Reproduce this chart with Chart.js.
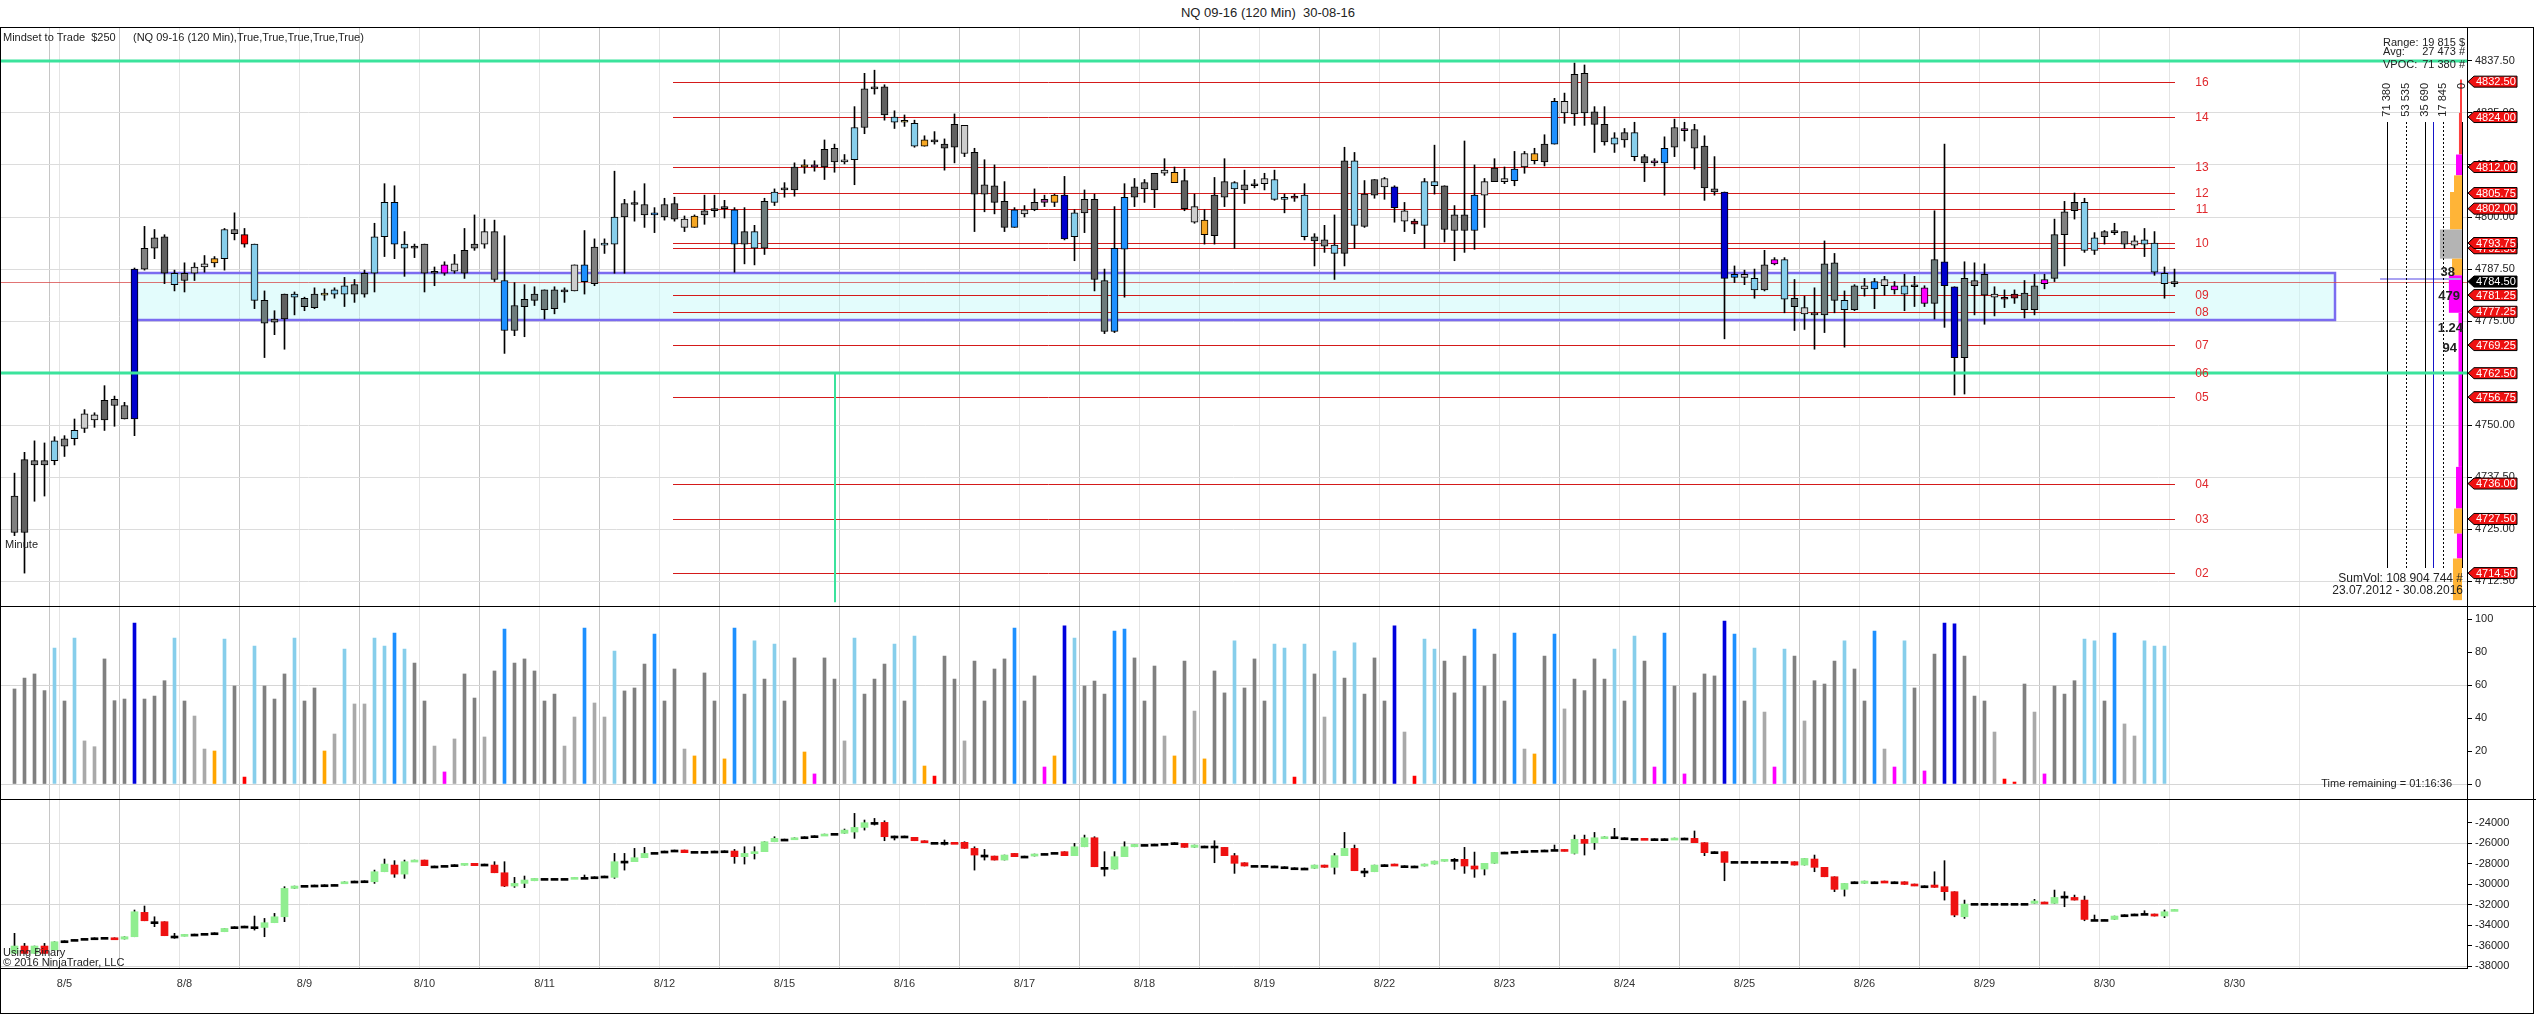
<!DOCTYPE html>
<html>
<head>
<meta charset="utf-8">
<script src="https://cdn.jsdelivr.net/npm/chart.js@4.4.1/dist/chart.umd.min.js"></script>
<style>
  body { margin: 0; background: #fff; width: 2536px; height: 1014px; overflow: hidden; position: relative; font-family: Arial, "Liberation Sans", sans-serif; }
  canvas { position: absolute; left: 0; }
  #title { position: absolute; top: 5px; left: 0; width: 2536px; text-align: center; font-size: 13px; color: #222; }
  .rule { position: absolute; height: 1px; background: #000; }
  #frame { position: absolute; left: 0; top: 27px; width: 2534px; height: 987px; box-sizing: border-box; border: 1px solid #000; pointer-events: none; }
</style>
</head>
<body>
<div id="title">NQ 09-16 (120 Min)&nbsp; 30-08-16</div>
<canvas id="priceChart" width="2536" height="579" style="top:27px"></canvas>
<canvas id="volChart" width="2536" height="193" style="top:606px"></canvas>
<canvas id="deltaChart" width="2536" height="215" style="top:799px"></canvas>
<div id="frame"></div>
<div class="rule" style="top:606px;left:0;width:2536px"></div>
<div class="rule" style="top:799px;left:0;width:2536px"></div>
<div class="rule" style="top:968px;left:0;width:2468px"></div>
<script>
// --- price bars (120 min NQ 09-16) ---
const open = [
  4733, 4724.25, 4741.5, 4740.5, 4741.5, 4746.75, 4746.75, 4749.25, 4752.5, 4751.25, 4756.25, 4754.75,
  4751.5, 4787.5, 4792.5, 4795.25, 4786.5, 4784.75, 4786.5, 4788, 4789, 4790, 4797, 4795.75,
  4793.5, 4780, 4775.5, 4775.5, 4781.5, 4780.5, 4778.25, 4781.5, 4781.5, 4781.5, 4783.75, 4781.5,
  4786.5, 4795.25, 4803.5, 4793.5, 4792.5, 4793.5, 4786.5, 4786.5, 4788.75, 4786.5, 4792.5, 4793.5,
  4796.5, 4784.75, 4772.75, 4778.5, 4780, 4782.5, 4778, 4782.5, 4782.25, 4788.5, 4784, 4793.25,
  4793.5, 4800, 4803.25, 4803, 4800.5, 4800, 4803.25, 4799.5, 4797.5, 4800.5, 4801.5, 4802,
  4801.75, 4793.5, 4796.5, 4792.5, 4803.5, 4806.5, 4806.5, 4812, 4812.5, 4812, 4816.5, 4813.25,
  4813.75, 4821.5, 4830.75, 4831.25, 4824, 4822.75, 4822.5, 4817, 4818.5, 4817.5, 4816.75, 4822,
  4815.5, 4805.5, 4807.5, 4803.75, 4797.5, 4801.75, 4801.75, 4803.5, 4803.5, 4805.25, 4795.25, 4801,
  4804.25, 4784.75, 4772.5, 4792.25, 4804.75, 4806.75, 4806.5, 4810.5, 4810.75, 4808.75, 4802.5, 4799.25,
  4795.5, 4804.75, 4808.25, 4806.5, 4807.75, 4808, 4809, 4804.25, 4804.5, 4805.25, 4795.25, 4794.5,
  4793.25, 4791.25, 4813.5, 4797.75, 4805.25, 4809.25, 4807.25, 4801.5, 4799, 4798, 4808.5, 4807.5,
  4796.75, 4800.5, 4796.75, 4805.25, 4808.5, 4809.25, 4808.75, 4812, 4815.25, 4813.25, 4817.5, 4827.75,
  4824.75, 4834.5, 4825.25, 4822.25, 4817.5, 4818.5, 4820.25, 4814.5, 4813, 4813, 4816.75, 4821.25,
  4821, 4817, 4806.75, 4806, 4785.5, 4786.25, 4785.25, 4782.5, 4788.75, 4789.75, 4780.5, 4778.25,
  4776.75, 4776.5, 4789, 4780, 4777.75, 4783.5, 4782.75, 4785, 4783.5, 4781.5, 4783.5, 4783,
  4779.25, 4789.25, 4783.25, 4766.25, 4784.75, 4786.25, 4781.5, 4780.5, 4780.5, 4781.75, 4777.75, 4784,
  4785.25, 4795.75, 4801.5, 4803.5, 4792, 4795.25, 4796.75, 4796.5, 4793.25, 4794.5, 4793.75, 4786.5,
  4784
];
const high = [
  4738.5, 4743.5, 4746.25, 4745.75, 4747.25, 4747.5, 4751.5, 4753.75, 4753, 4759.5, 4757, 4755.5,
  4787.75, 4797.75, 4797, 4795.75, 4787.25, 4789, 4789, 4790.75, 4790.5, 4797.25, 4801, 4797.25,
  4793.5, 4782.25, 4777.5, 4781.5, 4782, 4780.75, 4783, 4782.75, 4783, 4785.5, 4785, 4787.25,
  4798.5, 4808, 4807.5, 4796.5, 4793.5, 4793.5, 4788, 4789.25, 4791, 4797.25, 4800.5, 4799.5,
  4799.25, 4795.5, 4784.25, 4783.75, 4783.25, 4782.5, 4783.25, 4783, 4788.5, 4796.75, 4794.75, 4794.75,
  4811, 4804.25, 4806.25, 4808, 4802.25, 4804.5, 4804.75, 4800.25, 4800.5, 4805.25, 4805.25, 4804,
  4802.25, 4802.25, 4798, 4804.5, 4806.75, 4808.25, 4813, 4813.75, 4813.5, 4818.5, 4817.5, 4815,
  4826.5, 4834.5, 4835.25, 4831.75, 4825.5, 4824.5, 4823.25, 4819.5, 4820.5, 4818.75, 4824.75, 4822,
  4816.5, 4813.75, 4812.5, 4808.5, 4802.25, 4802.75, 4806.75, 4805.25, 4805.5, 4809.75, 4801.75, 4806.5,
  4805.5, 4787.5, 4802.5, 4808, 4809.25, 4809, 4810.5, 4814, 4812, 4811.5, 4805.5, 4801.75,
  4809.5, 4814, 4808.5, 4811.25, 4809, 4810.5, 4811.25, 4805.5, 4805.5, 4808, 4796, 4798,
  4800.5, 4816.75, 4815.5, 4808.75, 4809, 4809.5, 4807.5, 4803.5, 4799.5, 4809.25, 4817.25, 4807.5,
  4802.75, 4818.25, 4812.5, 4809.25, 4814, 4812, 4815.75, 4815.75, 4816.5, 4819.75, 4828.5, 4829.75,
  4837, 4836.5, 4826.5, 4826.5, 4820.25, 4821.25, 4822.75, 4815, 4814, 4819.25, 4823.5, 4822.75,
  4822.25, 4819.5, 4814.5, 4806, 4788.25, 4787.25, 4787.5, 4792, 4790.25, 4790.25, 4785, 4781,
  4783, 4794.25, 4791.25, 4782.25, 4783.75, 4785.25, 4785.25, 4785.75, 4784.5, 4786.25, 4785.75, 4783.5,
  4801.5, 4817.5, 4783.25, 4789.25, 4789, 4788.75, 4783.25, 4782.5, 4782.5, 4784.75, 4786.25, 4786.25,
  4799.5, 4803.75, 4805.75, 4804.5, 4796.25, 4796.75, 4798.5, 4796.5, 4795.5, 4797.25, 4796.5, 4788,
  4787.5
];
const low = [
  4723.5, 4714.5, 4731.75, 4733, 4740.5, 4742.5, 4745.25, 4748.25, 4749.5, 4748.75, 4749.75, 4751.5,
  4747.5, 4787.25, 4790, 4784, 4782.25, 4782, 4784.75, 4786.75, 4788, 4787.25, 4794.5, 4792.75,
  4778, 4766.25, 4771.75, 4768.25, 4776.5, 4777.5, 4778, 4780, 4780.5, 4778.5, 4779.5, 4780.75,
  4782, 4790.5, 4790, 4785.75, 4790.25, 4782, 4783.5, 4786, 4786.5, 4785.25, 4792, 4792.5,
  4784.5, 4767.25, 4771.5, 4771.25, 4778.75, 4775.5, 4776.75, 4779.5, 4782.25, 4781.5, 4783.5, 4791.25,
  4786.5, 4786.5, 4799, 4797.5, 4796.25, 4799.25, 4799, 4796.5, 4797.5, 4798.25, 4800, 4799.75,
  4786.75, 4788.75, 4788.5, 4791, 4802.75, 4804.75, 4805, 4810.5, 4811, 4809, 4810.75, 4812.75,
  4807.75, 4820, 4829.5, 4823.25, 4821.25, 4821.75, 4816.75, 4817, 4817.5, 4811.25, 4813, 4814.5,
  4796.5, 4801.25, 4800.75, 4796.5, 4797.5, 4800, 4801.5, 4802.5, 4802.5, 4794.5, 4789.5, 4796.25,
  4782.25, 4772, 4772.25, 4780.75, 4802.5, 4803.5, 4802.25, 4810, 4808.25, 4801.5, 4798.5, 4793.5,
  4793.5, 4802.5, 4792.5, 4803.25, 4807, 4806.5, 4804, 4801, 4803.75, 4794.5, 4788.25, 4791.5,
  4785, 4788.25, 4792.5, 4797.5, 4804.5, 4804.25, 4798.75, 4796.5, 4796, 4792.5, 4805.5, 4794,
  4789.5, 4791.5, 4792.25, 4797.5, 4808.5, 4808, 4807.5, 4810.5, 4812.75, 4812.25, 4817.5, 4822.5,
  4822, 4822, 4815.5, 4817.25, 4815.5, 4816.75, 4813.5, 4808.5, 4812.25, 4805.25, 4814.5, 4818.25,
  4811.5, 4804, 4805.25, 4770.75, 4784.25, 4783.75, 4780.5, 4782.25, 4788.5, 4777, 4772.75, 4773,
  4768.25, 4772.25, 4777, 4768.75, 4777.5, 4781, 4778, 4781.25, 4781.5, 4777.5, 4778.5, 4778.5,
  4775.5, 4773.5, 4757.25, 4757.5, 4776.5, 4774.25, 4776.25, 4778.25, 4779.25, 4775.75, 4776.5, 4782.75,
  4784.5, 4788.25, 4799.5, 4791.5, 4791, 4793.5, 4795.75, 4792.5, 4792.5, 4790.5, 4786, 4780.5,
  4783.25
];
const close = [
  4724.25, 4741.75, 4740.5, 4741.5, 4746.25, 4745, 4748.75, 4752.75, 4751.25, 4756, 4754.75, 4751.5,
  4787.5, 4792.5, 4795, 4786.5, 4783.75, 4786.5, 4788, 4788.75, 4790, 4797, 4796, 4793.5,
  4780, 4774.5, 4774.75, 4781.5, 4780.75, 4778.5, 4781.5, 4781.25, 4782.5, 4783.5, 4781.5, 4786.5,
  4795.25, 4803.5, 4793.5, 4792.5, 4793, 4786.5, 4786.75, 4788.5, 4787, 4792, 4793.5, 4796.5,
  4785, 4772.75, 4778.75, 4780.25, 4781.5, 4777.75, 4782.5, 4782, 4788.5, 4784.5, 4792.75, 4793.5,
  4800, 4803.25, 4803, 4800.5, 4800.75, 4803, 4799.5, 4797.5, 4800.25, 4801.5, 4802, 4802.5,
  4793.5, 4796.5, 4792.5, 4803.75, 4806, 4807, 4812, 4812.5, 4812, 4816.25, 4813.25, 4813.75,
  4821.5, 4830.75, 4831, 4824.5, 4822.75, 4822.75, 4817, 4818.5, 4818, 4816.5, 4822.25, 4815.25,
  4805.5, 4807.75, 4803.5, 4797.5, 4801.75, 4800.75, 4803.5, 4804.25, 4805.25, 4794.75, 4801, 4804.25,
  4785, 4772.5, 4792.5, 4804.75, 4807.25, 4808.25, 4810.5, 4811.25, 4808.25, 4802, 4798.75, 4795.75,
  4805.25, 4808.5, 4806.75, 4807.75, 4807.5, 4809.25, 4804.25, 4804.25, 4805, 4795.25, 4794.25, 4793,
  4791.25, 4813.5, 4798, 4805.5, 4809, 4807.25, 4802.25, 4799, 4798.25, 4808.5, 4807.5, 4797,
  4800.5, 4796.75, 4805.25, 4808.5, 4811.75, 4808.5, 4811.5, 4815.25, 4813.5, 4817.5, 4827.75, 4825,
  4834.25, 4825, 4822.25, 4818, 4819, 4820.25, 4814.5, 4813, 4813.5, 4816.5, 4821.5, 4820.75,
  4816.5, 4807, 4806, 4785.25, 4786.25, 4785.5, 4782.5, 4788.5, 4789.75, 4780.25, 4778.5, 4776.75,
  4776.5, 4788.75, 4780, 4777.75, 4783.5, 4782.75, 4784.5, 4783.5, 4782.5, 4783.5, 4783.25, 4779.25,
  4789.75, 4783.5, 4766.25, 4785.25, 4783.5, 4781.25, 4780.75, 4780.25, 4781.5, 4777.75, 4783.5, 4785,
  4795.75, 4801.25, 4803.5, 4792, 4795, 4796.5, 4796.25, 4793.5, 4794.25, 4793.5, 4786.75, 4784,
  4784.5
];
// candle body tone per bar (g gray, d dark, s slate, l light, b sky, D dodger, B blue, o orange, r red, m magenta, p purple, R dark red, k khaki)
const candleTone = (
  'g d g g b g b l l d g g ' + 'B g g d b g l l o b g r ' + 'b s g d b s s k b b s s ' +
  'b b D b d g d m l d g l ' + 'g D s s s s s d l D g b ' + 'b g d g D g d l o g d d ' +
  'D s b s b d d o p d g l ' + 'b g d d b k b o d d d l ' + 'd g d d D l g p o B b g ' +
  'd s D D d g d l o d l o ' + 'd g b g d l b b R b s g ' + 'b d b g d l B l R b b d ' +
  'g d D l d l D l o d D l ' + 'g g d d b g b d p D g p ' + 'g d g B D l b g m b s l ' +
  'g s s b s l D l m b d m ' + 's B B s g s l R R s s m ' + 's g d b b g d g l b b b ' + 's'
).trim().split(' ');

// --- volume panel ---
const volume = [
  57.6, 64.2, 66.7, 56.6, 82.4, 50.3, 88.5, 26.1, 22.6, 75.8, 50.5, 51.5,
  97.6, 51.5, 53.3, 62.6, 88.5, 50.3, 41.2, 21.2, 20, 87.9, 59.4, 4.2,
  83.6, 59.4, 51.5, 66.7, 88.5, 50.3, 58.2, 20, 30.3, 81.8, 48.5, 48.5,
  88.5, 83.6, 91.5, 81.8, 73.3, 50.3, 23, 7.3, 27.3, 66.7, 52.1, 28.5,
  68.5, 93.9, 73.3, 75.8, 68.5, 50.3, 54.5, 23, 40.6, 94.5, 49.1, 40.6,
  80.6, 56.4, 58.2, 72.7, 90.9, 50.3, 69.7, 21.2, 17, 67.3, 50.3, 15.2,
  94.5, 54.5, 86.7, 63.6, 84.8, 50.3, 76.4, 19.4, 6.1, 76.4, 63.6, 26.1,
  88.5, 54.5, 63.6, 72.7, 84.8, 50.3, 89.7, 10.9, 4.8, 77.6, 63.6, 26.1,
  74.5, 50.3, 69.7, 75.8, 94.5, 50.3, 65.5, 10.3, 17, 95.8, 88.5, 59.4,
  62.4, 54.5, 92.7, 93.9, 76.4, 50.3, 71.5, 29.1, 17, 74.5, 44.2, 15.2,
  68.5, 55.2, 86.7, 58.2, 75.8, 50.3, 84.8, 82.4, 4.2, 84.8, 66.7, 40.6,
  80.6, 64.2, 85.5, 54.5, 76.4, 50.3, 95.8, 31.5, 4.8, 87.9, 81.8, 74.5,
  55.2, 77.6, 93.9, 59.4, 78.8, 50.3, 91.5, 21.2, 18.2, 77.6, 90.9, 45.5,
  63.6, 56.6, 75.8, 63.6, 81.8, 50.3, 89.7, 74.5, 10.3, 91.5, 59.4, 6.1,
  55.2, 66.7, 65.5, 98.8, 90.9, 50.3, 82.4, 43.6, 10.3, 81.8, 77.6, 38.2,
  62.6, 60.6, 74.5, 86.7, 69.7, 50.3, 92.7, 21.2, 10.3, 86.7, 58.2, 7.9,
  78.8, 97.6, 97, 77.6, 53.3, 50.3, 31.5, 3, 1.2, 60.6, 43.6, 6.1,
  59.4, 54.5, 62.6, 87.9, 86.7, 50.3, 91.5, 36.4, 29.1, 86.7, 83.6, 83.6,
  null
];
const volClass = (
  'g g g g b g b l l g g g ' + 'B g g g b g l l o b g r ' + 'b g g g b g g o l b l l ' +
  'b b D b g g l m l g g l ' + 'g D g g g g g l l D l l ' + 'b g g g D g g l o g g o ' +
  'D g b g b g g o m g g l ' + 'b g g g b g b o r g g l ' + 'g g g g D g g m o B b g ' +
  'g g D D g g g l o g l o ' + 'g g b g g g b b r b g l ' + 'b g b g g g B l r b b g ' +
  'g g D g g g D l o g D l ' + 'g g g g b g b g m D g m ' + 'g g g B D g b l m b g l ' +
  'g g g b g g D l m b g m ' + 'g B B g g g l r r g l m ' + 'g g g b b g D l l b b b ' + 'g'
).trim().split(' ');

// --- lower panel (binary delta) ---
const dOpen = [
  -36770, -36050, -36770, -36050, -36440, -35530, -35400, -35300, -35240, -35200, -35240, -35370,
  -35140, -32760, -33670, -33670, -35070, -35070, -34880, -34810, -34750, -34650, -34160, -34100,
  -34160, -34230, -33770, -33190, -30420, -30120, -30090, -30060, -30030, -29930, -29700, -29670,
  -29770, -28790, -28140, -29020, -27810, -27650, -28230, -28170, -28100, -28140, -27970, -28040,
  -28140, -28890, -30190, -29930, -29670, -29440, -29440, -29440, -29440, -29340, -29280, -29210,
  -29340, -27750, -27810, -27420, -26900, -26770, -26670, -26670, -26800, -26800, -26770, -26740,
  -26770, -27320, -27000, -26830, -25860, -25600, -25600, -25370, -25270, -25270, -25040, -25040,
  -24910, -24460, -23970, -23970, -25300, -25300, -25430, -25760, -25920, -25920, -25920, -25920,
  -26510, -27160, -27260, -27650, -27000, -27260, -27260, -27000, -26900, -26830, -27220, -26350,
  -25470, -28360, -28530, -27320, -26350, -26120, -26090, -26020, -25950, -26020, -26410, -26280,
  -26280, -26410, -27220, -27910, -28170, -28170, -28230, -28300, -28400, -28430, -28460, -28140,
  -28360, -27220, -26510, -28720, -28790, -28100, -28040, -28200, -28230, -28230, -28040, -27750,
  -27580, -27580, -28230, -28530, -27970, -26870, -26800, -26740, -26700, -26670, -26610, -26610,
  -27000, -25630, -25950, -25530, -25370, -25470, -25530, -25530, -25560, -25560, -25630, -25500,
  -25530, -25950, -26830, -26830, -27780, -27780, -27780, -27780, -27780, -27780, -27810, -28140,
  -27550, -28360, -29280, -30510, -29770, -29930, -29770, -29700, -29770, -29770, -29990, -30160,
  -30090, -30250, -30740, -33190, -31880, -31880, -31880, -31880, -31880, -31880, -31880, -31750,
  -31880, -31170, -31300, -31560, -33450, -33450, -33450, -32990, -32920, -32860, -32920, -33120,
  -32600
];
const dHigh = [
  -34810, -35790, -36050, -35790, -35630, -35530, -35400, -35300, -35240, -35200, -35240, -35140,
  -32530, -32140, -33190, -33670, -34810, -34910, -34880, -34810, -34750, -34330, -34160, -34100,
  -33120, -33350, -32860, -30250, -30190, -30120, -30090, -30060, -30030, -29770, -29700, -29670,
  -28630, -27550, -27710, -27650, -27650, -27650, -28230, -28170, -28100, -27970, -27970, -28040,
  -27810, -27810, -29340, -29210, -29440, -29440, -29440, -29440, -29340, -29110, -29280, -29210,
  -27000, -27000, -26510, -26410, -26900, -26770, -26670, -26670, -26800, -26800, -26770, -26740,
  -26610, -26350, -26350, -25860, -25370, -25600, -25470, -25370, -25270, -25110, -25040, -24620,
  -23090, -23740, -23580, -23810, -25300, -25300, -25430, -25760, -25920, -25690, -25920, -25860,
  -26350, -26610, -27260, -27160, -27000, -27260, -27060, -27000, -26900, -26830, -26020, -25210,
  -25370, -26830, -26830, -25860, -26120, -26120, -26090, -26020, -25950, -26020, -26180, -26280,
  -25760, -26410, -27000, -27910, -28170, -28170, -28230, -28300, -28400, -28430, -28140, -28140,
  -27000, -24950, -26180, -28460, -28140, -28100, -28040, -28200, -28230, -28040, -27750, -27580,
  -27490, -26410, -26870, -27970, -26900, -26870, -26800, -26740, -26700, -26670, -26180, -26610,
  -25210, -25210, -24950, -25370, -24550, -25470, -25530, -25530, -25560, -25560, -25500, -25500,
  -24810, -25950, -26830, -26830, -27780, -27780, -27780, -27780, -27780, -27780, -27810, -27490,
  -27160, -28360, -29280, -29930, -29770, -29700, -29770, -29700, -29770, -29770, -29990, -30160,
  -28790, -27710, -30740, -31560, -31880, -31880, -31880, -31880, -31880, -31880, -31490, -31750,
  -30580, -30740, -31070, -31170, -33020, -33450, -33120, -32990, -32920, -32600, -32920, -32530,
  -32470
];
const dLow = [
  -36770, -36770, -36770, -36770, -36440, -35530, -35400, -35300, -35240, -35200, -35370, -35370,
  -35140, -33580, -34160, -35040, -35300, -35070, -34880, -34810, -34750, -34650, -34160, -34100,
  -34490, -35140, -33770, -33670, -30420, -30120, -30090, -30060, -30030, -29930, -29700, -29670,
  -29930, -28790, -29340, -29440, -27810, -28200, -28230, -28170, -28100, -28140, -28200, -28040,
  -28890, -30250, -30320, -30350, -29670, -29440, -29440, -29440, -29440, -29440, -29280, -29210,
  -29440, -28630, -27810, -27420, -26900, -26770, -26670, -26930, -26800, -26800, -26770, -26740,
  -27970, -28040, -27550, -26830, -25860, -25600, -25600, -25370, -25270, -25270, -25040, -25040,
  -25530, -24720, -24230, -25760, -25690, -25300, -25760, -25950, -25920, -26180, -26020, -26510,
  -28630, -27650, -27650, -27650, -27320, -27260, -27260, -27000, -26900, -27220, -27220, -26350,
  -28300, -29210, -28530, -27320, -26350, -26120, -26090, -26020, -25950, -26410, -26410, -26280,
  -27910, -27220, -28950, -28230, -28170, -28170, -28230, -28300, -28400, -28430, -28460, -28360,
  -29020, -27220, -28690, -29280, -28790, -28100, -28170, -28200, -28230, -28230, -28040, -27750,
  -28560, -28950, -29340, -29110, -27970, -26870, -26800, -26740, -26700, -26670, -26610, -26770,
  -27060, -27160, -26610, -25530, -25530, -25470, -25530, -25630, -25560, -25560, -25630, -25500,
  -25950, -27220, -26830, -29670, -27780, -27780, -27780, -27780, -27780, -27780, -28140, -28140,
  -28790, -29280, -30740, -31170, -29770, -29930, -29770, -29860, -29770, -30030, -30160, -30160,
  -30320, -31560, -33190, -33350, -31880, -31880, -31880, -31880, -31880, -31880, -31880, -31880,
  -31880, -32210, -31560, -33580, -33450, -33450, -33450, -32990, -32920, -32860, -33120, -33280,
  -32600
];
const dClose = [
  -36050, -36770, -36050, -36770, -35630, -35530, -35400, -35300, -35240, -35200, -35370, -35140,
  -32700, -33580, -33670, -35040, -35070, -34910, -34880, -34810, -34750, -34330, -34160, -34100,
  -34160, -33770, -33190, -30420, -30190, -30120, -30090, -30060, -30030, -29770, -29700, -29670,
  -28790, -28040, -29020, -27810, -27650, -28200, -28230, -28170, -28100, -27970, -28200, -28040,
  -28890, -30190, -29930, -29600, -29440, -29440, -29440, -29440, -29340, -29370, -29280, -29210,
  -27810, -27750, -27420, -27000, -26900, -26770, -26670, -26930, -26800, -26800, -26770, -26740,
  -27320, -27000, -26830, -25860, -25530, -25600, -25470, -25370, -25270, -25110, -25040, -24720,
  -24460, -24000, -23970, -25370, -25300, -25300, -25760, -25950, -25920, -25920, -26020, -26510,
  -27160, -27190, -27650, -27160, -27320, -27260, -27060, -27000, -26900, -27220, -26350, -25470,
  -28300, -28360, -27320, -26350, -26120, -26120, -26090, -26020, -25950, -26410, -26180, -26280,
  -26280, -27220, -27970, -28230, -28170, -28170, -28230, -28300, -28400, -28430, -28140, -28360,
  -27220, -26510, -28690, -28720, -28140, -28100, -28170, -28200, -28230, -28040, -27750, -27580,
  -27580, -28230, -28530, -27970, -26900, -26870, -26800, -26740, -26700, -26670, -26610, -26770,
  -25630, -26020, -25470, -25370, -25370, -25470, -25530, -25630, -25560, -25560, -25500, -25500,
  -25950, -26930, -26830, -27880, -27780, -27780, -27780, -27780, -27780, -27780, -28140, -27490,
  -28360, -29280, -30510, -29930, -29770, -29700, -29770, -29860, -29770, -30030, -30160, -30160,
  -30320, -30740, -33020, -31950, -31880, -31880, -31880, -31880, -31880, -31880, -31650, -31880,
  -31300, -31170, -31560, -33450, -33450, -33450, -33120, -32990, -32920, -32860, -33120, -32700,
  -32470
];

// --- axes / ticks ---
const sessionBars = [4, 16, 28, 40, 52, 64, 76, 88, 100, 112, 124, 136, 148, 160, 172, 184, 196, 208];
const dateBars = [5, 17, 29, 41, 53, 65, 77, 89, 101, 113, 125, 137, 149, 161, 173, 185, 197, 209, 222];
const dateLabels = ['8/5', '8/8', '8/9', '8/10', '8/11', '8/12', '8/15', '8/16', '8/17', '8/18', '8/19',
  '8/22', '8/23', '8/24', '8/25', '8/26', '8/29', '8/30', '8/30'];
const priceTicks = [4712.5, 4725, 4737.5, 4750, 4762.5, 4775, 4787.5, 4800, 4812.5, 4825, 4837.5];
const volTicks = [0, 20, 40, 60, 80, 100];
const deltaTicks = [-24000, -26000, -28000, -30000, -32000, -34000, -36000, -38000];

// --- drawn levels on the price panel ---
const levelPrices = [4832.5, 4824, 4812, 4805.75, 4802, 4793.75, 4792.5, 4781.25, 4777.25, 4769.25, 4762.5, 4756.75, 4736, 4727.5, 4714.5];
const levelNames = ['16', '14', '13', '12', '11', '10', '', '09', '08', '07', '06', '05', '04', '03', '02'];
const greenLevels = [4837.5, 4762.5];
const lastPrice = 4784.5;
const zone = { from: 12, to: 232, high: 4786.5, low: 4775.25 };

// --- volume profile (right edge) ---
const profileHi = [4833, 4825, 4815, 4810, 4806, 4797, 4790, 4786, 4777, 4740, 4730, 4724, 4718];
const profileLo = [4825, 4815, 4810, 4806, 4797, 4790, 4786, 4777, 4740, 4730, 4724, 4718, 4708];
const profileVol = [1900, 2900, 5700, 7600, 11400, 21000, 9500, 12500, 3300, 5700, 7600, 4800, 8600];
const profileTone = ['r', 'r', 'm', 'o', 'o', 'g', 'o', 'm', 'm', 'm', 'o', 'm', 'o'];
const profileRefs = [71380, 53535, 35690, 17845, 0];
const profileRefText = ['71 380', '53 535', '35 690', '17 845', '0'];
const profileAvg = 27473;

const family = 'Arial, "Liberation Sans", sans-serif';
Chart.defaults.font.family = family;
Chart.defaults.color = '#222';

const tone = { g: '#808080', d: '#606060', s: '#6d7b7b', l: '#cdcdcd', b: '#87ceeb', D: '#1e90ff', B: '#0000cd',
  o: '#f5a623', r: '#ff0000', m: '#ff00ff', p: '#a0409a', R: '#a31525', k: '#d6bd55' };
const volTone = { g: '#808080', l: '#a9a9a9', b: '#87ceeb', D: '#1e90ff', B: '#0000dd', o: '#ffa500', r: '#ff0000', m: '#ff00ff' };
const profTone = { r: '#ff4040', m: '#ff00ff', o: '#ffb437', g: '#b4b4b4' };
const GREEN = '#3be39c';

const xMin = -1.45, xMax = 245.25;
// profile is laid along the bar axis: zero volume sits at bar 244.75, one contract = 0.00010507 bar
const PROFILE_BASE = 244.75, PROFILE_STEP = 0.00010507;
const bars = open.map((_, i) => i);
const gridTicks = sessionBars.concat(dateBars).sort((a, b) => a - b);

function noPad(s) { s.paddingTop = 0; s.paddingBottom = 0; s.paddingLeft = 0; s.paddingRight = 0; }

function xAxis(showLabels, h) {
  return {
    type: 'linear', min: xMin, max: xMax, offset: false,
    afterBuildTicks: s => { s.ticks = gridTicks.map(v => ({ value: v })); },
    afterFit: s => { s.height = h; noPad(s); },
    grid: { color: c => (c.tick && sessionBars.includes(c.tick.value)) ? '#c6c6c6' : '#e4e4e4', drawTicks: false },
    border: { display: false },
    ticks: {
      display: showLabels, autoSkip: false, maxRotation: 0, padding: 9, color: '#333', font: { size: 11 },
      callback: v => { const j = dateBars.indexOf(v); return j >= 0 ? dateLabels[j] : ''; }
    }
  };
}
function yAxis(min, max, ticks, fmt, gridFn) {
  return {
    position: 'right', min, max,
    afterBuildTicks: s => { s.ticks = ticks.map(v => ({ value: v })); },
    afterFit: s => { s.width = 69; noPad(s); },
    grid: { color: gridFn, tickColor: '#000', tickLength: 5 },
    border: { display: true, color: '#000' },
    ticks: { padding: 3, color: '#222', font: { size: 11 }, callback: fmt }
  };
}
const common = {
  responsive: false, animation: false, devicePixelRatio: 1, layout: { padding: 0 },
  plugins: { legend: { display: false }, tooltip: { enabled: false } }
};

function tag(ctx, xTip, yc, text, fill) {
  ctx.beginPath();
  ctx.moveTo(xTip + 1, yc);
  ctx.lineTo(xTip + 7, yc - 5.5);
  ctx.lineTo(xTip + 50, yc - 5.5);
  ctx.lineTo(xTip + 50, yc + 5.5);
  ctx.lineTo(xTip + 7, yc + 5.5);
  ctx.closePath();
  ctx.fillStyle = fill; ctx.fill();
  ctx.strokeStyle = '#000'; ctx.lineWidth = 1; ctx.stroke();
  ctx.fillStyle = '#fff'; ctx.font = '11px ' + family;
  ctx.textAlign = 'left'; ctx.textBaseline = 'middle';
  ctx.fillText(text, xTip + 9, yc + 0.5);
}

const priceOverlay = {
  id: 'priceOverlay',
  beforeDatasetsDraw(chart) {
    const { ctx, chartArea: a, scales: { x, y } } = chart;
    const px = v => Math.round(x.getPixelForValue(v));
    const py = v => Math.round(y.getPixelForValue(v));
    const vx = v => x.getPixelForValue(PROFILE_BASE - v * PROFILE_STEP);
    ctx.save();
    ctx.beginPath(); ctx.rect(a.left, a.top, a.right - a.left, a.bottom - a.top); ctx.clip();

    // value zone
    const zx0 = px(zone.from), zx1 = px(zone.to), zy0 = py(zone.high), zy1 = py(zone.low);
    ctx.fillStyle = 'rgba(200,250,250,0.5)';
    ctx.fillRect(zx0, zy0, zx1 - zx0, zy1 - zy0);
    ctx.strokeStyle = '#7b6cf0'; ctx.lineWidth = 2.5;
    ctx.strokeRect(zx0, zy0, zx1 - zx0, zy1 - zy0);

    // numbered levels
    ctx.strokeStyle = '#d41a1a'; ctx.lineWidth = 1;
    levelPrices.forEach(p => {
      const yy = py(p) + 0.5;
      ctx.beginPath(); ctx.moveTo(px(65.85), yy); ctx.lineTo(px(216), yy); ctx.stroke();
    });

    // last price line
    ctx.strokeStyle = 'rgba(215,70,70,0.75)';
    const ly = py(lastPrice) + 0.5;
    ctx.beginPath(); ctx.moveTo(a.left, ly); ctx.lineTo(a.right, ly); ctx.stroke();

    // volume profile
    profileLo.forEach((lo, k) => {
      const y0 = y.getPixelForValue(profileHi[k]), y1 = y.getPixelForValue(lo);
      const x0 = vx(profileVol[k]), x1 = vx(0);
      ctx.fillStyle = profTone[profileTone[k]];
      ctx.fillRect(x0, y0, x1 - x0, y1 - y0);
    });
    // poc marker
    ctx.strokeStyle = '#a9a2f2'; ctx.lineWidth = 2;
    ctx.beginPath(); ctx.moveTo(vx(78000), py(4785.1)); ctx.lineTo(vx(1000), py(4785.1)); ctx.stroke();

    // profile reference lines
    const ry0 = py(4822.75), ry1 = py(4715.75);
    ctx.lineWidth = 1;
    profileRefs.forEach((v, k) => {
      const xx = Math.round(vx(v)) + 0.5;
      ctx.strokeStyle = '#000';
      ctx.setLineDash(k % 2 === 1 ? [2, 2] : []);
      ctx.beginPath(); ctx.moveTo(xx, ry0); ctx.lineTo(xx, ry1); ctx.stroke();
    });
    ctx.setLineDash([]);
    const ax = Math.round(vx(profileAvg)) + 0.5;
    ctx.strokeStyle = '#1515c8';
    ctx.beginPath(); ctx.moveTo(ax, ry0); ctx.lineTo(ax, ry1); ctx.stroke();
    ctx.restore();
  },
  afterDatasetsDraw(chart) {
    const { ctx, chartArea: a, scales: { x, y } } = chart;
    ctx.save();
    ctx.beginPath(); ctx.rect(a.left, a.top, a.right - a.left, a.bottom - a.top); ctx.clip();
    ctx.strokeStyle = GREEN; ctx.lineWidth = 3;
    greenLevels.forEach(p => {
      const yy = Math.round(y.getPixelForValue(p));
      ctx.beginPath(); ctx.moveTo(a.left, yy); ctx.lineTo(a.right, yy); ctx.stroke();
    });
    ctx.lineWidth = 2;
    const gx = Math.round(x.getPixelForValue(82));
    ctx.beginPath(); ctx.moveTo(gx, y.getPixelForValue(4762.5)); ctx.lineTo(gx, y.getPixelForValue(4707.5)); ctx.stroke();

    // level numbers
    ctx.fillStyle = '#e0282c'; ctx.font = '12px ' + family;
    ctx.textAlign = 'center'; ctx.textBaseline = 'middle';
    levelPrices.forEach((p, k) => { if (levelNames[k]) ctx.fillText(levelNames[k], x.getPixelForValue(218.75), y.getPixelForValue(p) + 1); });
    ctx.restore();
  },
  afterDraw(chart) {
    const { ctx, chartArea: a, scales: { x, y } } = chart;
    const vx = v => x.getPixelForValue(PROFILE_BASE - v * PROFILE_STEP);
    ctx.save();
    // axis tags
    levelPrices.forEach(p => tag(ctx, a.right, y.getPixelForValue(p), p.toFixed(2), '#ee1111'));
    tag(ctx, a.right, y.getPixelForValue(4793.75), (4793.75).toFixed(2), '#ee1111');
    tag(ctx, a.right, y.getPixelForValue(lastPrice), lastPrice.toFixed(2), '#000');

    ctx.fillStyle = '#222'; ctx.textBaseline = 'middle';
    ctx.font = '11px ' + family; ctx.textAlign = 'left';
    ctx.fillText('Mindset to Trade  $250', 3, 11);
    ctx.fillText('(NQ 09-16 (120 Min),True,True,True,True,True)', 133, 11);
    ctx.fillText('Minute', 5, 518);

    // profile header
    ctx.fillText('Range:', 2383, 16); ctx.fillText('Avg:', 2383, 25); ctx.fillText('VPOC:', 2383, 38);
    ctx.textAlign = 'right';
    ctx.fillText('19 815 $', 2465, 16); ctx.fillText('27 473 #', 2465, 25); ctx.fillText('71 380 #', 2465, 38);
    ctx.font = '12px ' + family;
    ctx.fillText('SumVol: 108 904 744 #', 2463, 552);
    ctx.fillText('23.07.2012 - 30.08.2016', 2463, 564);

    ctx.font = 'bold 13px ' + family;
    ctx.fillText('38', 2455, 245); ctx.fillText('479', 2460, 269);
    ctx.fillText('1.24', 2463, 301); ctx.fillText('94', 2457, 321);

    // profile scale captions
    ctx.font = '11px ' + family;
    profileRefs.forEach((v, k) => {
      ctx.save();
      ctx.translate(vx(v), 56);
      ctx.rotate(-Math.PI / 2);
      ctx.textAlign = 'right'; ctx.textBaseline = 'middle';
      ctx.fillText(profileRefText[k], 0, 0);
      ctx.restore();
    });
    ctx.restore();
  }
};

new Chart(document.getElementById('priceChart'), {
  type: 'bar',
  data: {
    datasets: [
      {
        label: 'body', xAxisID: 'x', yAxisID: 'y', order: 0, grouped: false,
        data: bars.map(i => ({ x: i, y: [open[i], close[i]] })),
        backgroundColor: bars.map(i => tone[candleTone[i]]),
        borderColor: '#000', borderWidth: 1, borderSkipped: false, barThickness: 7, minBarLength: 2
      },
      {
        label: 'wick', xAxisID: 'x', yAxisID: 'y', order: 1, grouped: false,
        data: bars.map(i => ({ x: i, y: [low[i], high[i]] })),
        backgroundColor: '#000', borderWidth: 0, barThickness: 1
      }
    ]
  },
  options: Object.assign({}, common, {
    scales: {
      x: xAxis(false, 0),
      y: yAxis(4706.6, 4845.62, priceTicks, v => v.toFixed(2), () => '#dcdcdc')
    }
  }),
  plugins: [priceOverlay]
});

new Chart(document.getElementById('volChart'), {
  type: 'bar',
  data: {
    datasets: [{
      label: 'volume', xAxisID: 'x', yAxisID: 'y', grouped: false,
      data: bars.map(i => ({ x: i, y: volume[i] })),
      backgroundColor: bars.map(i => volTone[volClass[i]]),
      borderWidth: 0, barThickness: 3
    }]
  },
  options: Object.assign({}, common, {
    scales: {
      x: xAxis(false, 0),
      y: yAxis(-9.09, 107.88, volTicks, v => String(v), c => (c.tick && (c.tick.value === 0 || c.tick.value === 60)) ? '#d6d6d6' : 'rgba(0,0,0,0)')
    }
  }),
  plugins: [{
    id: 'volText',
    afterDraw(chart) {
      const ctx = chart.ctx;
      ctx.save();
      ctx.fillStyle = '#222'; ctx.font = '11px ' + family;
      ctx.textAlign = 'right'; ctx.textBaseline = 'middle';
      ctx.fillText('Time remaining = 01:16:36', 2452, 178);
      ctx.restore();
    }
  }]
});

new Chart(document.getElementById('deltaChart'), {
  type: 'bar',
  data: {
    datasets: [
      {
        label: 'body', xAxisID: 'x', yAxisID: 'y', order: 0, grouped: false,
        data: bars.map(i => ({ x: i, y: [dOpen[i], dClose[i]] })),
        backgroundColor: bars.map(i => Math.abs(dClose[i] - dOpen[i]) < 60 ? '#000' : (dClose[i] > dOpen[i] ? '#90ee90' : '#ee1111')),
        borderWidth: 0, borderSkipped: false, barThickness: 7, minBarLength: 2
      },
      {
        label: 'wick', xAxisID: 'x', yAxisID: 'y', order: 1, grouped: false,
        data: bars.map(i => ({ x: i, y: [dLow[i], dHigh[i]] })),
        backgroundColor: '#000', borderWidth: 0, barThickness: 1
      }
    ]
  },
  options: Object.assign({}, common, {
    scales: {
      x: xAxis(true, 46),
      y: yAxis(-38195, -21685, deltaTicks, v => String(v), c => (c.tick && [-26000, -32000, -38000].includes(c.tick.value)) ? '#d6d6d6' : 'rgba(0,0,0,0)')
    }
  }),
  plugins: [{
    id: 'deltaText',
    afterDraw(chart) {
      const ctx = chart.ctx;
      ctx.save();
      ctx.fillStyle = '#222'; ctx.font = '11px ' + family;
      ctx.textAlign = 'left'; ctx.textBaseline = 'middle';
      ctx.fillText('Using Binary', 3, 154);
      ctx.fillText('\u00a9 2016 NinjaTrader, LLC', 3, 164);
      ctx.restore();
    }
  }]
});
</script>
</body>
</html>
